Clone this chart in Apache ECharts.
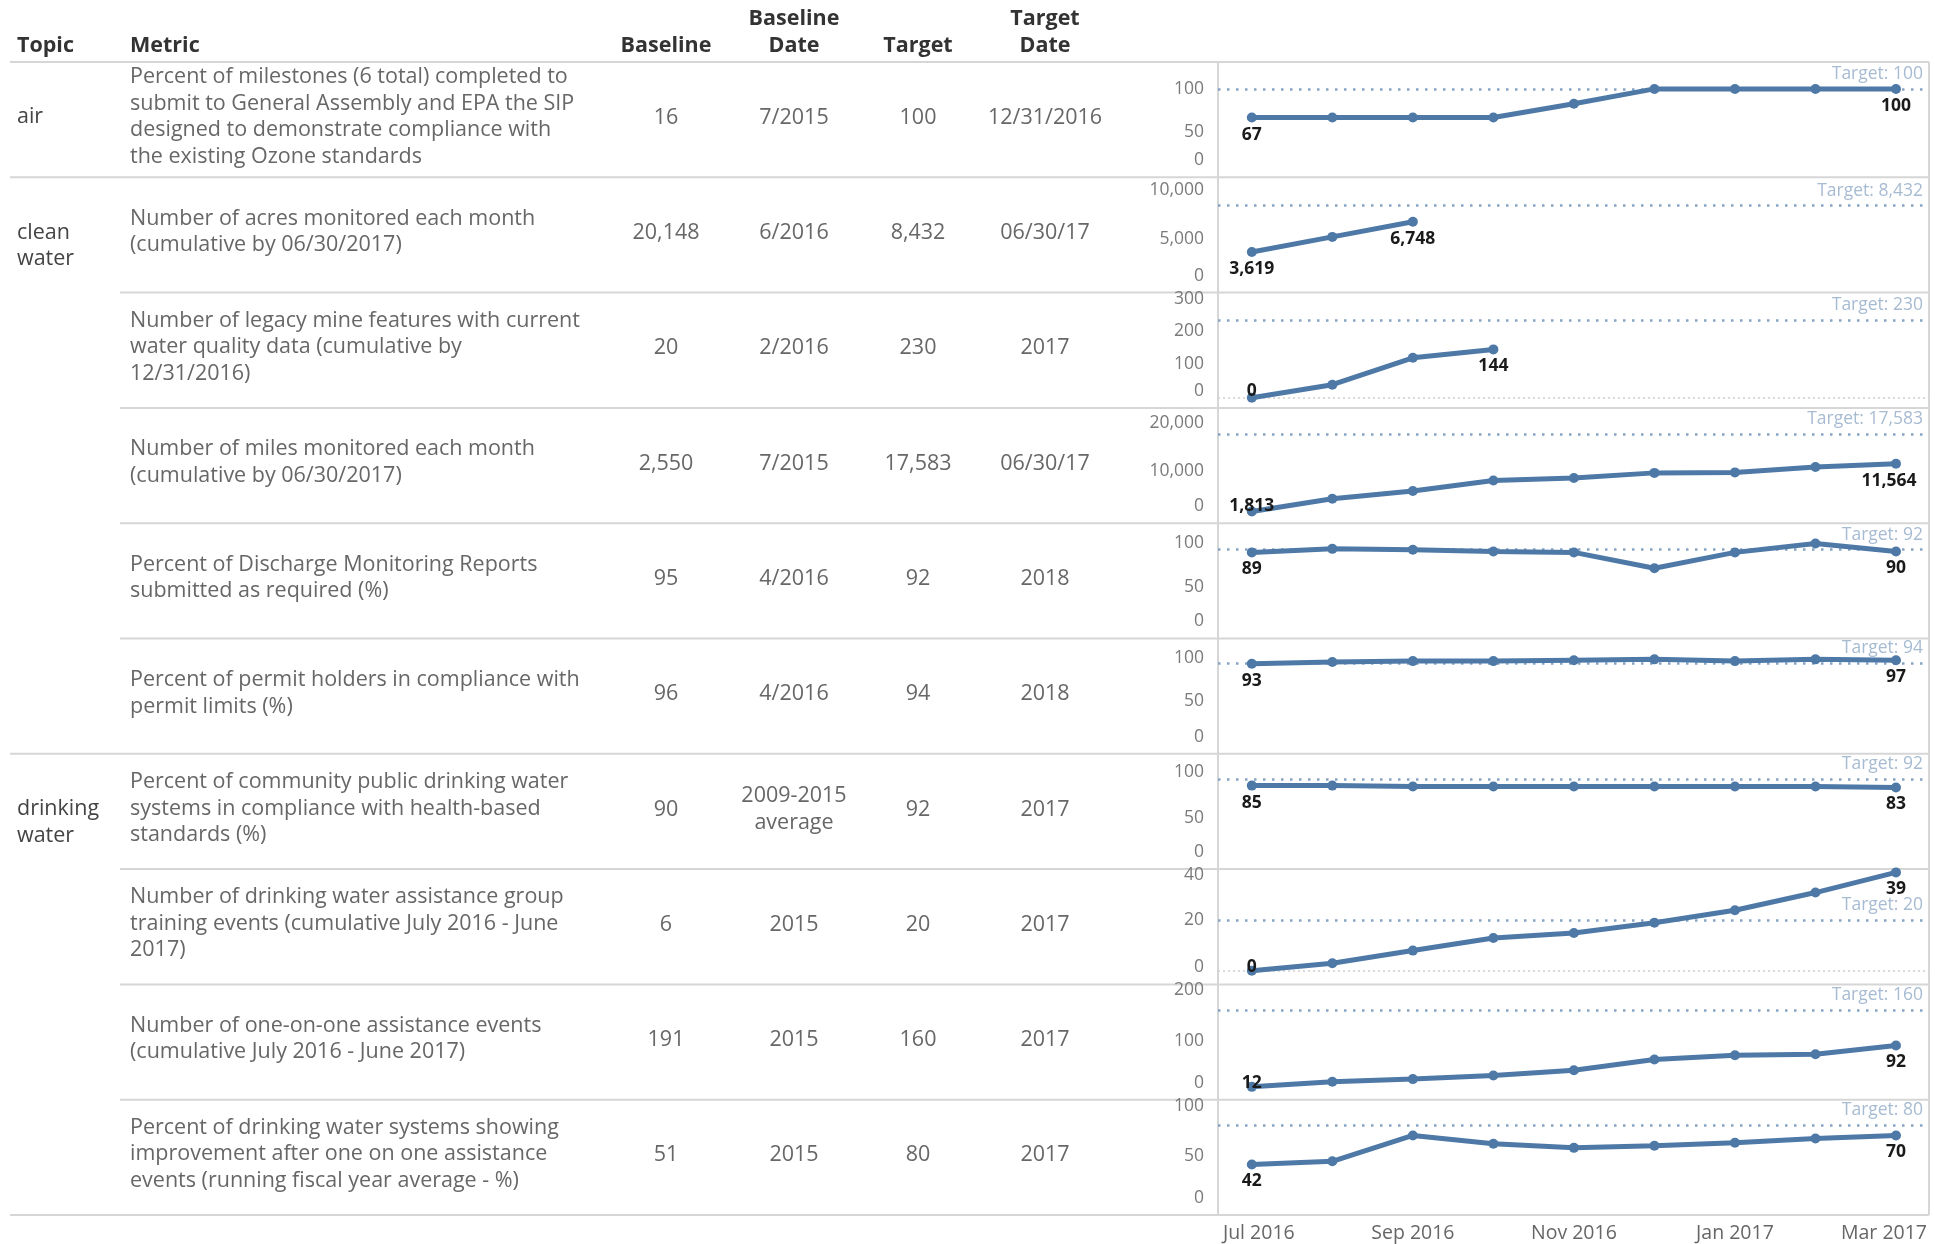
<!DOCTYPE html>
<html><head><meta charset="utf-8">
<script src="https://cdn.jsdelivr.net/npm/echarts@6/dist/echarts.min.js"></script>
<style>html,body{margin:0;padding:0;background:#fff}#main{width:1935px;height:1244px}</style>
</head><body><div id="main"></div>
<script>
// ---------------- DATA ----------------
const months = ['Jul 2016','Aug 2016','Sep 2016','Oct 2016','Nov 2016','Dec 2016','Jan 2017','Feb 2017','Mar 2017'];
const xTickLabels = ['Jul 2016','Sep 2016','Nov 2016','Jan 2017','Mar 2017'];
const topicNames = ['air','clean\nwater','drinking\nwater'];
const topicRowCounts = [1,5,4];
const columnHeaders = ['Topic','Metric','Baseline','Baseline\nDate','Target','Target\nDate'];
const metrics = [
  'Percent of milestones (6 total) completed to\nsubmit to General Assembly and EPA the SIP\ndesigned to demonstrate compliance with\nthe existing Ozone standards',
  'Number of acres monitored each month\n(cumulative by 06/30/2017)',
  'Number of legacy mine features with current\nwater quality data (cumulative by\n12/31/2016)',
  'Number of miles monitored each month\n(cumulative by 06/30/2017)',
  'Percent of Discharge Monitoring Reports\nsubmitted as required (%)',
  'Percent of permit holders in compliance with\npermit limits (%)',
  'Percent of community public drinking water\nsystems in compliance with health-based\nstandards (%)',
  'Number of drinking water assistance group\ntraining events (cumulative July 2016 - June\n2017)',
  'Number of one-on-one assistance events\n(cumulative July 2016 - June 2017)',
  'Percent of drinking water systems showing\nimprovement after one on one assistance\nevents (running fiscal year average - %)'
];
const baselines = ['16','20,148','20','2,550','95','96','90','6','191','51'];
const baselineDates = ['7/2015','6/2016','2/2016','7/2015','4/2016','4/2016','2009-2015\naverage','2015','2015','2015'];
const targets = [100,8432,230,17583,92,94,92,20,160,80];
const targetDates = ['12/31/2016','06/30/17','2017','06/30/17','2018','2018','2017','2017','2017','2017'];

const airMilestones   = [67,67,67,67,83,100,100,100,100];
const cleanAcres      = [3619,5180,6748];
const cleanMines      = [0,39,119,144];
const cleanMiles      = [1813,4400,6000,8150,8650,9700,9800,10900,11564];
const cleanDMR        = [89,93,92,90,89,71,89,99,90];
const cleanPermits    = [93,95,96,96,97,98,96,98,97];
const dwCompliance    = [85,85,84,84,84,84,84,84,83];
const dwTraining      = [0,3,8,13,15,19,24,31,39];
const dwOneOnOne      = [12,22,27,34,44,65,73,75,92];
const dwImprovement   = [42,45,70,62,58,60,63,67,70];
const seriesValues = [airMilestones,cleanAcres,cleanMines,cleanMiles,cleanDMR,cleanPermits,dwCompliance,dwTraining,dwOneOnOne,dwImprovement];

const yTicks = [[0,50,100],[0,5000,10000],[0,100,200,300],[0,10000,20000],[0,50,100],[0,50,100],[0,50,100],[0,20,40],[0,100,200],[0,50,100]];
const yMin = [-1.8,-590,-30,-600,-8.4,-9.8,-4.3,-5.4,-12.8,-6.8];
const yMax = [131,11356,313,23000,122,121.8,119,40.3,210,104.5];

// ---------------- LAYOUT / STYLE ----------------
const FONT = '"Open Sans", sans-serif';
const ROW0 = 62, ROW_H = 115.3, NROWS = metrics.length;
const CL = 1218, CR = 1929;
const XMIN = -0.42, XMAX = 8.41;
const LINE_COLOR = '#4e79a7';
const SEP = '#d6d6d6';
const fmt = v => Number(v).toLocaleString('en-US');
const rowTop = i => ROW0 + i * ROW_H;

const grids = [], xAxes = [], yAxes = [], series = [], graphics = [];

for (let i = 0; i < NROWS; i++) {
  const top = rowTop(i), bot = top + ROW_H;
  grids.push({left: CL, width: CR - CL, top: top, height: ROW_H});
  const vy = v => top + (yMax[i] - v) / (yMax[i] - yMin[i]) * ROW_H;
  const rich = {};
  yTicks[i].forEach((t, k) => {
    const px = vy(t);
    const c = Math.min(Math.max(px, top + 6), bot - 17);
    const d = c - px;
    rich['t' + k] = {fontSize: 17.5, fontFamily: FONT, color: '#7a7a7a',
      padding: d > 0 ? [2 * d, 0, 0, 0] : [0, 0, -2 * d, 0]};
  });
  const ticks = yTicks[i];
  yAxes.push({gridIndex: i, type: 'value', min: yMin[i], max: yMax[i],
    axisLine: {show: false}, axisTick: {show: false}, splitLine: {show: false},
    axisLabel: {customValues: ticks, margin: 14, fontSize: 17.5, fontFamily: FONT, color: '#7a7a7a',
      formatter: v => '{t' + ticks.indexOf(v) + '|' + fmt(v) + '}', rich: rich}});
  const last = i === NROWS - 1;
  const xIdx = xTickLabels.map(l => months.indexOf(l));
  const xShift = [7, 0, 0, 0, -12];
  const xRich = {};
  xIdx.forEach((m, k) => {
    const s = xShift[k];
    xRich['x' + k] = {fontSize: 19.5, fontFamily: FONT, color: '#666',
      padding: s > 0 ? [0, 0, 0, 2 * s] : [0, -2 * s, 0, 0]};
  });
  xAxes.push({gridIndex: i, type: 'value', min: XMIN, max: XMAX, show: last,
    axisLine: {show: false}, axisTick: {show: false}, splitLine: {show: false},
    axisLabel: {show: last, customValues: xIdx, margin: 8, fontSize: 19.5, fontFamily: FONT, color: '#666',
      formatter: v => '{x' + xIdx.indexOf(v) + '|' + months[v] + '}', rich: xRich}});

  const vals = seriesValues[i];
  const data = vals.map((v, j) => {
    const end = j === 0 || j === vals.length - 1;
    if (!end) return {value: [j, v]};
    const px = vy(v);
    const off = Math.min(17, bot - 17 - px);
    const s = fmt(v);
    const dx = (j === 8 && s.length > 4) ? -7 : 0;
    return {value: [j, v], label: {show: true, position: 'inside', offset: [dx, off], formatter: s}};
  });
  const mlData = [{yAxis: targets[i],
    lineStyle: {color: '#87a3c4', width: 2.5, type: [2.5, 6.5]},
    label: {show: true, position: 'insideEndTop', distance: 6, formatter: 'Target: ' + fmt(targets[i]),
      color: '#a7bbd2', fontSize: 17.5, fontFamily: FONT}}];
  if (vals.indexOf(0) >= 0) {
    mlData.push({yAxis: 0, lineStyle: {color: '#cfcfcf', width: 1.5, type: [2, 3]}, label: {show: false}});
  }
  series.push({type: 'line', xAxisIndex: i, yAxisIndex: i, data: data,
    symbol: 'circle', symbolSize: 10, clip: false,
    lineStyle: {color: LINE_COLOR, width: 5}, itemStyle: {color: LINE_COLOR},
    label: {show: false, color: '#1a1a1a', fontSize: 17.5, fontWeight: 'bold', fontFamily: FONT},
    emphasis: {disabled: true}, z: 3,
    markLine: {silent: true, symbol: 'none', animation: false, z: 2, data: mlData}});
}

// ---------------- TABLE (graphic) ----------------
function txt(x, y, text, o) {
  o = o || {};
  graphics.push({type: 'text', x: x, y: y, silent: true, style: Object.assign({
    text: text, fontSize: 21.5, fontFamily: FONT, fill: '#676767', lineHeight: 26.5,
    align: 'left', textAlign: 'left', verticalAlign: 'middle', textVerticalAlign: 'middle'}, o)});
}
function hline(y, x1, x2) {
  graphics.push({type: 'line', silent: true, shape: {x1: x1, y1: y, x2: x2, y2: y},
    style: {stroke: SEP, lineWidth: 2}});
}
const colX = [17, 130, 666, 794, 918, 1045];
const colAlign = ['left', 'left', 'center', 'center', 'center', 'center'];
columnHeaders.forEach((h, k) => {
  txt(colX[k], 59, h, {fontWeight: 'bold', fill: '#333', fontSize: 21.5,
    align: colAlign[k], textAlign: colAlign[k], verticalAlign: 'bottom', textVerticalAlign: 'bottom'});
});
hline(ROW0, 10, CR);
let r = 0;
topicNames.forEach((t, g) => {
  txt(colX[0], rowTop(r) + 42, t, {fill: '#444', fontSize: 21.5, verticalAlign: 'top', textVerticalAlign: 'top'});
  for (let k = 0; k < topicRowCounts[g]; k++) {
    const i = r + k;
    const isGroupEnd = k === topicRowCounts[g] - 1;
    hline(rowTop(i + 1), isGroupEnd ? 10 : 120, CR);
  }
  r += topicRowCounts[g];
});
for (let i = 0; i < NROWS; i++) {
  const cy = rowTop(i) + ROW_H / 2;
  txt(colX[1], cy - 3, metrics[i]);
  const cols = [baselines[i], baselineDates[i], fmt(targets[i]), targetDates[i]];
  cols.forEach((c, k) => txt(colX[k + 2], cy - 2, c, {align: 'center', textAlign: 'center'}));
}
graphics.push({type: 'line', silent: true, shape: {x1: CL, y1: ROW0, x2: CL, y2: rowTop(NROWS)}, style: {stroke: SEP, lineWidth: 2}});
graphics.push({type: 'line', silent: true, shape: {x1: CR, y1: ROW0, x2: CR, y2: rowTop(NROWS)}, style: {stroke: SEP, lineWidth: 2}});

const chart = echarts.init(document.getElementById('main'), null, {renderer: 'canvas'});
chart.setOption({
  backgroundColor: '#fff', animation: false,
  grid: grids, xAxis: xAxes, yAxis: yAxes, series: series, graphic: graphics
});
</script></body></html>
